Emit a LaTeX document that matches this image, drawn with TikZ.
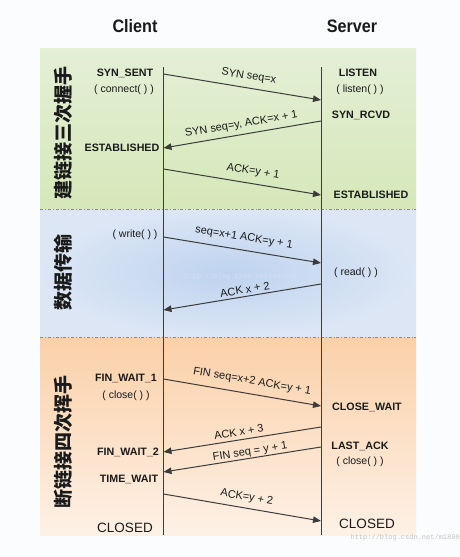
\documentclass[tikz,border=0pt]{standalone}
\usepackage{fontspec}
\setmainfont{Liberation Sans}
\newfontfamily\cjk{Noto Sans CJK SC}
\newfontfamily\titlefont[FakeStretch=0.9]{Liberation Sans}
\newfontfamily\wmfont{Liberation Mono}
\usetikzlibrary{arrows.meta}
\definecolor{txt}{HTML}{1A1A1A}
\definecolor{linec}{HTML}{3C3C3C}
\definecolor{sepc}{HTML}{8A8A8A}
\definecolor{bgc}{HTML}{FAFCFD}
\definecolor{gTop}{HTML}{E4EFD6}
\definecolor{gBot}{HTML}{D5E8B9}
\definecolor{bIn}{HTML}{BED3EF}
\definecolor{bOut}{HTML}{DCE6F5}
\definecolor{oTop}{HTML}{FBD0A8}
\definecolor{oBot}{HTML}{FDF1E6}
\definecolor{wmc}{HTML}{C4C4C4}
\begin{document}
\begin{tikzpicture}[x=1pt,y=-1pt,
  state/.style={font=\bfseries\fontsize{10.7}{12}\selectfont, text=txt, inner sep=0},
  call/.style={font=\fontsize{10.5}{12}\selectfont, text=txt, inner sep=0},
  closed/.style={font=\fontsize{13.5}{15}\selectfont, text=txt, inner sep=0},
  title/.style={font=\titlefont\bfseries\fontsize{18}{20}\selectfont, text=txt, inner sep=0},
  msg/.style={font=\fontsize{11}{13}\selectfont, text=txt, inner sep=0, sloped},
  arr/.style={draw=linec, line width=1pt, -{Triangle[length=8pt,width=6.5pt]}},
  life/.style={draw=linec, line width=1pt},
  sep/.style={draw=sepc, line width=0.8pt, dash dot},
  phase/.style={font=\cjk\bfseries\fontsize{19}{20}\selectfont, rotate=90, text=txt, inner sep=0},
  wm/.style={font=\wmfont\fontsize{7}{8}\selectfont, text=wmc, inner sep=0},
]
\useasboundingbox (0,0) rectangle (460,557);
\fill[bgc] (0,0) rectangle (460,557);
% phase backgrounds
\shade[top color=gTop, bottom color=gBot] (40,48) rectangle (416,209);
\shade[inner color=bIn, outer color=bOut] (40,209) rectangle (416,337);
\shade[top color=oTop, bottom color=oBot] (40,337) rectangle (416,535);
\coordinate (s1l) at (40,209); \coordinate (s1r) at (416,209);
\coordinate (s2l) at (40,337); \coordinate (s2r) at (416,337);
\draw[sep] (s1l) -- (s1r);
\draw[sep] (s2l) -- (s2r);
% titles
\node[title] (client) at (135,26) {Client};
\node[title] (server) at (352,26) {Server};
% lifelines
\coordinate (ct) at (163.5,67); \coordinate (cb) at (163.5,535);
\coordinate (st) at (321,67);   \coordinate (sb) at (321,535);
\draw[life] (ct) -- (cb);
\draw[life] (st) -- (sb);
% phase labels
\node[phase] (p1) at (63,133) {建链接三次握手};
\node[phase] (p2) at (63,272) {数据传输};
\node[phase] (p3) at (63,442) {断链接四次挥手};
% states, client side
\node[state] (synsent) at (125,73) {SYN\_SENT};
\node[call] (connect) at (124,90) {( connect( ) )};
\node[state] (estc) at (122,148) {ESTABLISHED};
\node[call] (write) at (135,235) {( write( ) )};
\node[state] (fw1) at (126,378) {FIN\_WAIT\_1};
\node[call] (closec) at (126,396) {( close( ) )};
\node[state] (fw2) at (128,452) {FIN\_WAIT\_2};
\node[state] (tw) at (129,479) {TIME\_WAIT};
\node[closed] (closedc) at (125,528) {CLOSED};
% states, server side
\node[state] (listen) at (358,73) {LISTEN};
\node[call] (listenf) at (360,90) {( listen( ) )};
\node[state] (synrcvd) at (361,115) {SYN\_RCVD};
\node[state] (ests) at (371,195) {ESTABLISHED};
\node[call] (read) at (356,273) {( read( ) )};
\node[state] (cw) at (367,407) {CLOSE\_WAIT};
\node[state] (la) at (360,446) {LAST\_ACK};
\node[call] (closes) at (360,462) {( close( ) )};
\node[closed] (closeds) at (367,524) {CLOSED};
% message end points
\coordinate (a1) at (163.5,74);  \coordinate (b1) at (321,100);
\coordinate (a2) at (321,121);   \coordinate (b2) at (163.5,148);
\coordinate (a3) at (163.5,169); \coordinate (b3) at (321,195);
\coordinate (a4) at (163.5,237); \coordinate (b4) at (321,263);
\coordinate (a5) at (321,284);   \coordinate (b5) at (163.5,310);
\coordinate (a6) at (163.5,379); \coordinate (b6) at (321,406);
\coordinate (a7) at (321,427);   \coordinate (b7) at (163.5,452);
\coordinate (a8) at (321,447);   \coordinate (b8) at (163.5,472);
\coordinate (a9) at (163.5,494); \coordinate (b9) at (321,521);
% messages
\draw[arr] (a1) -- node[msg, pos=0.53, above=5.8pt] (m1) {SYN seq=x} (b1);
\draw[arr] (a2) -- node[msg, pos=0.495, above=4.4pt] (m2) {SYN seq=y, ACK=x + 1} (b2);
\draw[arr] (a3) -- node[msg, pos=0.556, above=6.4pt] (m3) {ACK=y + 1} (b3);
\draw[arr] (a4) -- node[msg, pos=0.498, above=7pt] (m4) {seq=x+1 ACK=y + 1} (b4);
\draw[arr] (a5) -- node[msg, pos=0.476, above=2.4pt] (m5) {ACK x + 2} (b5);
\draw[arr] (a6) -- node[msg, pos=0.549, above=6.8pt] (m6) {FIN seq=x+2 ACK=y + 1} (b6);
\draw[arr] (a7) -- node[msg, pos=0.514, above=3.6pt] (m7) {ACK x + 3} (b7);
\draw[arr] (a8) -- node[msg, pos=0.444, above=0.5pt] (m8) {FIN seq = y + 1} (b8);
\draw[arr] (a9) -- node[msg, pos=0.517, above=5pt] (m9) {ACK=y + 2} (b9);
% watermarks
\node[wm, text=bOut!70!bIn] (wm1) at (241,277) {http://blog.csdn.net/xun527};
\node[wm, anchor=east] (wm2) at (460,538) {http://blog.csdn.net/m1890};
\end{tikzpicture}
\end{document}
